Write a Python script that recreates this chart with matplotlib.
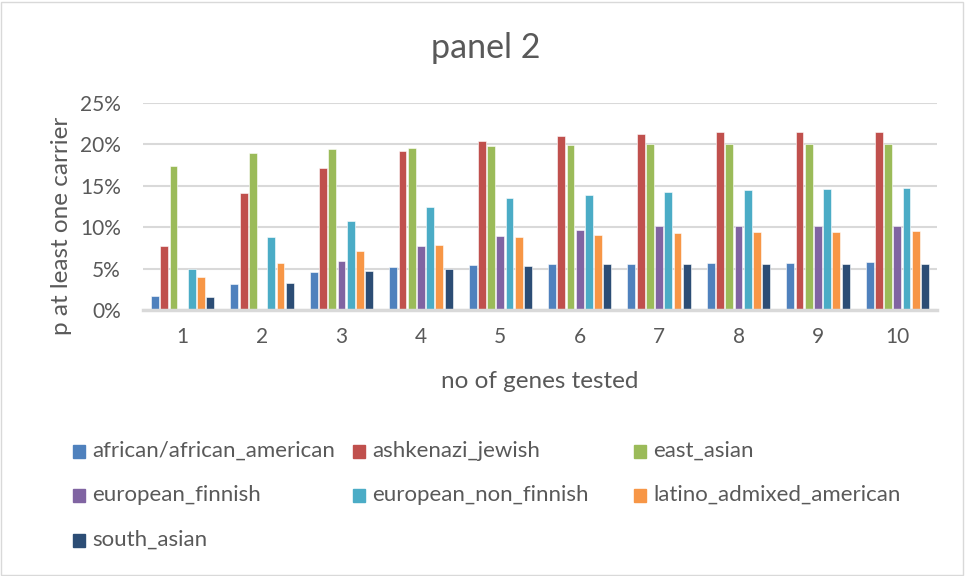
import numpy as np
import matplotlib
matplotlib.use("Agg")
import matplotlib.pyplot as plt
from matplotlib.patches import Rectangle

plt.rcParams['font.family'] = ['Lato', 'DejaVu Sans']

genes = [1, 2, 3, 4, 5, 6, 7, 8, 9, 10]
populations = ['african/african_american', 'ashkenazi_jewish', 'east_asian',
               'european_finnish', 'european_non_finnish', 'latino_admixed_american',
               'south_asian']

african = [1.7, 3.2, 4.6, 5.2, 5.4, 5.5, 5.6, 5.7, 5.7, 5.8]
ashkenazi = [7.7, 14.1, 17.1, 19.2, 20.4, 21.0, 21.3, 21.5, 21.5, 21.5]
east_asian = [17.4, 19.0, 19.4, 19.6, 19.8, 19.9, 20.0, 20.0, 20.0, 20.0]
finnish = [0.0, 0.0, 5.9, 7.7, 8.9, 9.7, 10.2, 10.2, 10.2, 10.2]
non_finnish = [5.0, 8.8, 10.7, 12.4, 13.5, 13.9, 14.3, 14.5, 14.6, 14.7]
latino = [4.0, 5.7, 7.1, 7.9, 8.8, 9.1, 9.3, 9.4, 9.4, 9.5]
south_asian = [1.6, 3.3, 4.7, 5.0, 5.3, 5.5, 5.6, 5.6, 5.6, 5.6]

series = [african, ashkenazi, east_asian, finnish, non_finnish, latino, south_asian]
colors = ['#4F81BD', '#C0504D', '#9BBB59', '#8064A2', '#4BACC6', '#F79646', '#2C4D75']

text_col = '#595959'
grid_col = '#D9D9D9'

fig = plt.figure(figsize=(9.65, 5.76), dpi=100)
ax = fig.add_axes([143 / 965, 1 - 310 / 576, (937 - 143) / 965, (310 - 103) / 576])

x = np.arange(len(genes))
slot = 0.116
width = 0.1
for i, (vals, c) in enumerate(zip(series, colors)):
    ax.bar(x + (i - 3) * slot, vals, width=width, color=c, edgecolor='white',
           linewidth=0.4, label=populations[i], zorder=3)

ax.set_xlim(-0.5, len(genes) - 0.5)
ax.set_ylim(0, 25)
ax.set_yticks([0, 5, 10, 15, 20, 25])
ax.set_yticklabels([f'{v}%' for v in [0, 5, 10, 15, 20, 25]])
ax.set_xticks(x)
ax.set_xticklabels([str(g) for g in genes])
ax.tick_params(length=0, labelsize=15, colors=text_col)
ax.tick_params(axis='x', pad=12)
ax.tick_params(axis='y', pad=16)
ax.grid(axis='y', color=grid_col, linewidth=1.5, zorder=0)
for s in ['top', 'right', 'left']:
    ax.spines[s].set_visible(False)
ax.spines['bottom'].set_color(grid_col)
ax.spines['bottom'].set_linewidth(2.5)
ax.spines['bottom'].set_zorder(4)

fig.text(486 / 965, 1 - 48 / 576, 'panel 2', ha='center', va='center',
         fontsize=24.5, color=text_col)
fig.text(62 / 965, 1 - 226 / 576, 'p at least one carrier', ha='center', va='center',
         rotation=90, fontsize=17.5, color=text_col)
fig.text(540 / 965, 1 - 381 / 576, 'no of genes tested', ha='center', va='center',
         fontsize=17.5, color=text_col)

# legend, three columns like the Excel chart
leg_x = [73, 353, 634]
leg_y = [452, 496, 541]
for i, name in enumerate(populations):
    lx = leg_x[i % 3]
    ly = leg_y[i // 3]
    fig.patches.append(Rectangle((lx / 965, 1 - (ly + 6) / 576), 12 / 965, 13 / 576,
                                 transform=fig.transFigure, color=colors[i]))
    fig.text((lx + 19) / 965, 1 - (ly - 1) / 576, name, ha='left', va='center',
             fontsize=16, color=text_col)

fig.patches.append(Rectangle((1 / 965, 1 / 576), 962 / 965, 573 / 576,
                             transform=fig.transFigure, fill=False,
                             edgecolor=grid_col, linewidth=1))

fig.savefig('out.png', dpi=100)
